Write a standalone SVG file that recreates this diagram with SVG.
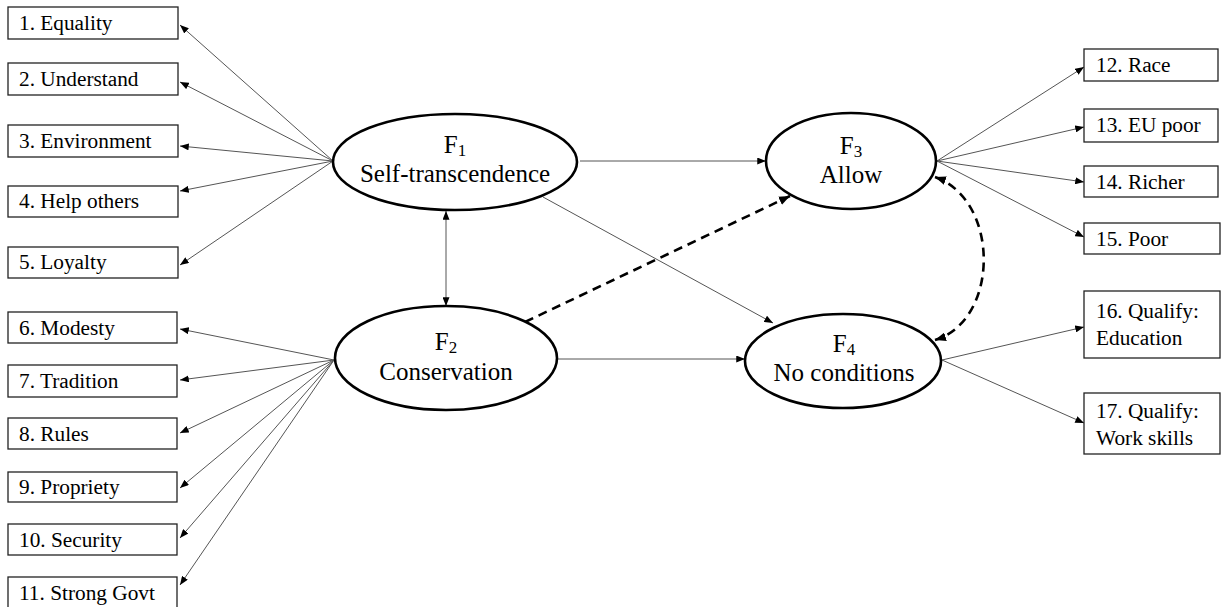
<svg xmlns="http://www.w3.org/2000/svg" width="1231" height="607" viewBox="0 0 1231 607">
<style>
  .box{fill:#fff;stroke:#222;stroke-width:1.3}
  .ell{fill:#fff;stroke:#000;stroke-width:2.6}
  .bt{font-family:"Liberation Serif","Times New Roman",serif;font-size:21.3px;fill:#000}
  .et{font-family:"Liberation Serif","Times New Roman",serif;font-size:25px;fill:#000;text-anchor:middle}
  .sub{font-size:17px}
  .ln{fill:none;stroke:#555;stroke-width:1;marker-end:url(#ah)}
  .dash{fill:none;stroke:#000;stroke-width:2.6;stroke-dasharray:9 6}
</style>
<defs>
  <marker id="ah" viewBox="0 0 10 8" refX="10" refY="4" markerWidth="9" markerHeight="7" markerUnits="userSpaceOnUse" orient="auto-start-reverse">
    <path d="M0,0 L10,4 L0,8 z" fill="#000"/>
  </marker>
  <marker id="ahd" viewBox="0 0 10 8" refX="10" refY="4" markerWidth="11" markerHeight="9" markerUnits="userSpaceOnUse" orient="auto-start-reverse">
    <path d="M0,0 L10,4 L0,8 z" fill="#000"/>
  </marker>
</defs>
<rect width="1231" height="607" fill="#fff"/>

<g id="connectors">
  <line class="ln" x1="333" y1="161" x2="180" y2="25"/>
  <line class="ln" x1="333" y1="161" x2="180" y2="82"/>
  <line class="ln" x1="333" y1="161" x2="180" y2="146"/>
  <line class="ln" x1="333" y1="161" x2="180" y2="191"/>
  <line class="ln" x1="333" y1="161" x2="180" y2="265"/>
  <line class="ln" x1="334" y1="360" x2="180" y2="329"/>
  <line class="ln" x1="334" y1="360" x2="180" y2="380"/>
  <line class="ln" x1="334" y1="360" x2="180" y2="433"/>
  <line class="ln" x1="334" y1="360" x2="180" y2="488"/>
  <line class="ln" x1="334" y1="360" x2="180" y2="538"/>
  <line class="ln" x1="334" y1="360" x2="180" y2="585"/>
  <line class="ln" x1="937" y1="161" x2="1084" y2="67"/>
  <line class="ln" x1="937" y1="161" x2="1084" y2="127"/>
  <line class="ln" x1="937" y1="161" x2="1084" y2="182"/>
  <line class="ln" x1="937" y1="161" x2="1084" y2="237"/>
  <line class="ln" x1="942" y1="360" x2="1084" y2="327"/>
  <line class="ln" x1="942" y1="360" x2="1084" y2="423"/>
  <line class="ln" x1="580" y1="161" x2="766" y2="161"/>
  <line class="ln" x1="543" y1="197" x2="773" y2="323"/>
  <line class="ln" x1="558" y1="359" x2="745" y2="359"/>
  <line class="ln" x1="446" y1="211" x2="446" y2="306" style="marker-start:url(#ah)"/>
  <line class="dash" x1="525" y1="322" x2="790" y2="196" style="marker-end:url(#ahd)"/>
  <path class="dash" d="M935,177 C1000,200 1000,320 935,340" style="marker-start:url(#ahd);marker-end:url(#ahd)"/>
</g>

<g id="F1"><ellipse class="ell" cx="455" cy="162" rx="122" ry="48"/>
  <text class="et" x="455" y="153">F<tspan class="sub" dy="3">1</tspan></text>
  <text class="et" x="455" y="182">Self-transcendence</text></g>
<g id="F2"><ellipse class="ell" cx="446" cy="358" rx="111" ry="52"/>
  <text class="et" x="446" y="350">F<tspan class="sub" dy="3">2</tspan></text>
  <text class="et" x="446" y="380">Conservation</text></g>
<g id="F3"><ellipse class="ell" cx="851" cy="161" rx="85" ry="48"/>
  <text class="et" x="851" y="154">F<tspan class="sub" dy="3">3</tspan></text>
  <text class="et" x="851" y="183">Allow</text></g>
<g id="F4"><ellipse class="ell" cx="843" cy="361" rx="98" ry="47"/>
  <text class="et" x="844" y="352">F<tspan class="sub" dy="3">4</tspan></text>
  <text class="et" x="844" y="381">No conditions</text></g>

<g id="v1"><rect class="box" x="8" y="7" width="170" height="32"/><text class="bt" x="19" y="30">1. Equality</text></g>
<g id="v2"><rect class="box" x="8" y="63" width="170" height="32"/><text class="bt" x="19" y="86">2. Understand</text></g>
<g id="v3"><rect class="box" x="8" y="125" width="170" height="32"/><text class="bt" x="19" y="148">3. Environment</text></g>
<g id="v4"><rect class="box" x="8" y="186" width="170" height="31"/><text class="bt" x="19" y="208">4. Help others</text></g>
<g id="v5"><rect class="box" x="8" y="247" width="170" height="31"/><text class="bt" x="19" y="269">5. Loyalty</text></g>
<g id="v6"><rect class="box" x="8" y="312" width="169" height="31"/><text class="bt" x="19" y="335">6. Modesty</text></g>
<g id="v7"><rect class="box" x="8" y="365" width="169" height="32"/><text class="bt" x="19" y="388">7. Tradition</text></g>
<g id="v8"><rect class="box" x="8" y="418" width="169" height="31"/><text class="bt" x="19" y="441">8. Rules</text></g>
<g id="v9"><rect class="box" x="8" y="472" width="169" height="30"/><text class="bt" x="19" y="494">9. Propriety</text></g>
<g id="v10"><rect class="box" x="8" y="524" width="169" height="31"/><text class="bt" x="19" y="547">10. Security</text></g>
<g id="v11"><rect class="box" x="8" y="577" width="169" height="31"/><text class="bt" x="19" y="600">11. Strong Govt</text></g>

<g id="v12"><rect class="box" x="1084" y="49" width="134" height="32"/><text class="bt" x="1096" y="72">12. Race</text></g>
<g id="v13"><rect class="box" x="1084" y="109" width="134" height="33"/><text class="bt" x="1096" y="132">13. EU poor</text></g>
<g id="v14"><rect class="box" x="1084" y="166" width="134" height="31"/><text class="bt" x="1096" y="189">14. Richer</text></g>
<g id="v15"><rect class="box" x="1084" y="223" width="136" height="31"/><text class="bt" x="1096" y="246">15. Poor</text></g>
<g id="v16"><rect class="box" x="1084" y="291" width="136" height="67"/><text class="bt" x="1096" y="318">16. Qualify:</text><text class="bt" x="1096" y="345">Education</text></g>
<g id="v17"><rect class="box" x="1084" y="393" width="136" height="61"/><text class="bt" x="1096" y="418">17. Qualify:</text><text class="bt" x="1096" y="445">Work skills</text></g>
</svg>
